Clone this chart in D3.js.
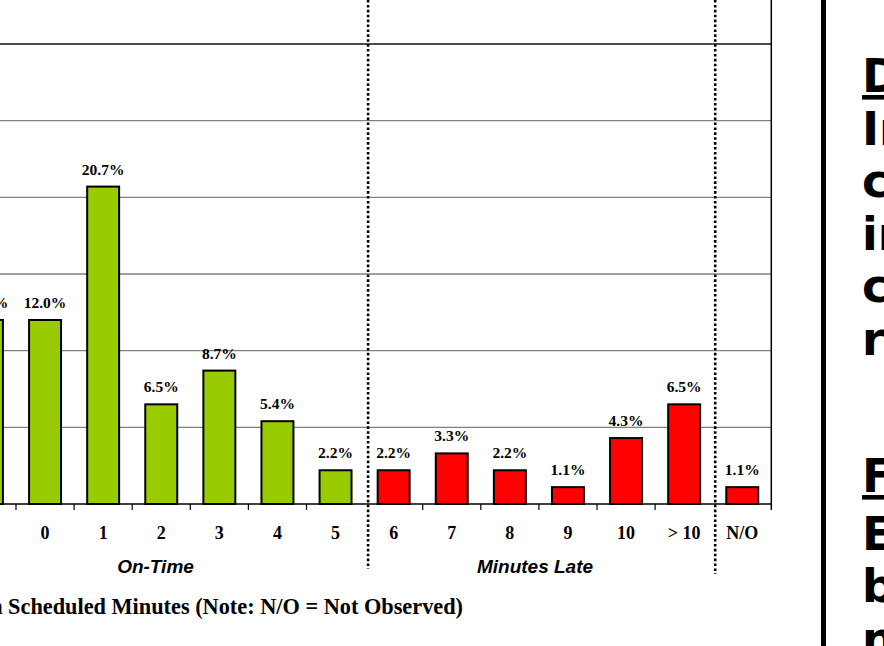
<!DOCTYPE html>
<html>
<head>
<meta charset="utf-8">
<script src="https://cdn.jsdelivr.net/npm/d3@7"></script>
<style>
  html, body { margin: 0; padding: 0; background: #fff; overflow: hidden; }
  svg { display: block; }
</style>
</head>
<body>
<svg id="chart" width="884" height="646"></svg>
<script>
// Distribution of arrivals by minutes relative to schedule
const categories = ["-1", "0", "1", "2", "3", "4", "5", "6", "7", "8", "9", "10", "> 10", "N/O"];
const shares     = [12.0, 12.0, 20.7, 6.5, 8.7, 5.4, 2.2, 2.2, 3.3, 2.2, 1.1, 4.3, 6.5, 1.1];
const groups     = ["on", "on", "on", "on", "on", "on", "on", "late", "late", "late", "late", "late", "late", "late"];
const gridValues = [5, 10, 15, 20, 25, 30];
const sectionLabels = ["On-Time", "Minutes Late"];
const axisTitle = "Actual Minutes Later Than Scheduled Minutes (Note: N/O = Not Observed)";
const sideHeadingA = ["D"];
const sideLinesA   = ["In", "c", "in", "c", "r"];
const sideHeadingB = ["F"];
const sideLinesB   = ["E", "b", "n"];

const svg = d3.select("#chart");
const colors = { on: "#99cc00", late: "#ff0000" };

const x = d3.scaleBand()
  .domain(categories)
  .range([-42.1, 771.3])
  .paddingInner(0.45)
  .paddingOuter(0.225);

const y = d3.scaleLinear().domain([0, 30]).range([504, 44]);
const step = x.step();
const left = x.range()[0];
const bound = i => left + step * i; // boundary between category i-1 and i

// gridlines
svg.append("g").selectAll("line")
  .data(gridValues)
  .join("line")
  .attr("x1", 0).attr("x2", bound(categories.length))
  .attr("y1", d => y(d)).attr("y2", d => y(d))
  .attr("stroke", d => d === 30 ? "#111" : "#808080")
  .attr("stroke-width", 1.3);

// right border of the plot
svg.append("line")
  .attr("x1", bound(categories.length)).attr("x2", bound(categories.length))
  .attr("y1", 0).attr("y2", 510)
  .attr("stroke", "#000").attr("stroke-width", 1.5);

// bars
svg.append("g").selectAll("rect")
  .data(categories)
  .join("rect")
  .attr("x", d => x(d))
  .attr("width", x.bandwidth())
  .attr("y", (d, i) => y(shares[i]))
  .attr("height", (d, i) => y(0) - y(shares[i]))
  .attr("fill", (d, i) => colors[groups[i]])
  .attr("stroke", "#000")
  .attr("stroke-width", 2);

// value labels
svg.append("g").selectAll("text")
  .data(categories)
  .join("text")
  .attr("x", d => x(d) + x.bandwidth() / 2)
  .attr("y", (d, i) => y(shares[i]) - 12)
  .attr("text-anchor", "middle")
  .attr("font-family", "'Liberation Serif', 'Times New Roman', serif")
  .attr("font-weight", "bold")
  .attr("font-size", 15.5)
  .text((d, i) => shares[i].toFixed(1) + "%");

// x axis baseline and ticks
svg.append("line")
  .attr("x1", 0).attr("x2", bound(categories.length))
  .attr("y1", y(0)).attr("y2", y(0))
  .attr("stroke", "#000").attr("stroke-width", 1.5);

const tickIdx = d3.range(1, categories.length).filter(i => i !== 7 && i !== 13);
svg.append("g").selectAll("line")
  .data(tickIdx)
  .join("line")
  .attr("x1", i => bound(i)).attr("x2", i => bound(i))
  .attr("y1", y(0)).attr("y2", y(0) + 6)
  .attr("stroke", "#000").attr("stroke-width", 1.2);

// category labels
svg.append("g").selectAll("text")
  .data(categories)
  .join("text")
  .attr("x", d => x(d) + x.bandwidth() / 2)
  .attr("y", 539)
  .attr("text-anchor", "middle")
  .attr("font-family", "'Liberation Serif', 'Times New Roman', serif")
  .attr("font-weight", "bold")
  .attr("font-size", 18)
  .text(d => d);

// dotted section separators
[7, 13].forEach((i, k) => {
  svg.append("line")
    .attr("x1", bound(i) + (k === 0 ? 3.5 : 2)).attr("x2", bound(i) + (k === 0 ? 3.5 : 2))
    .attr("y1", 0).attr("y2", k === 0 ? 569 : 574)
    .attr("stroke", "#000")
    .attr("stroke-width", 2.6)
    .attr("stroke-dasharray", "2.6 2.3");
});

// section labels
const sectionX = [155.5, 535];
svg.append("g").selectAll("text")
  .data(sectionLabels)
  .join("text")
  .attr("x", (d, i) => sectionX[i])
  .attr("y", 573)
  .attr("text-anchor", "middle")
  .attr("font-family", "'Liberation Sans', Arial, sans-serif")
  .attr("font-weight", "bold")
  .attr("font-style", "italic")
  .attr("font-size", 19)
  .text(d => d);

// axis title
svg.append("text")
  .attr("x", 463)
  .attr("y", 614)
  .attr("text-anchor", "end")
  .attr("font-family", "'Liberation Serif', 'Times New Roman', serif")
  .attr("font-weight", "bold")
  .attr("font-size", 22.3)
  .text(axisTitle);

// side panel divider
svg.append("rect")
  .attr("x", 821).attr("y", 0)
  .attr("width", 5).attr("height", 646)
  .attr("fill", "#000");

// side panel text
const side = svg.append("g")
  .attr("font-family", "'DejaVu Sans', Verdana, sans-serif")
  .attr("font-weight", "bold")
  .attr("font-size", 46)
  .attr("fill", "#000");

const lineH = 52.6;
const blockA = sideHeadingA.concat(sideLinesA);
const blockB = sideHeadingB.concat(sideLinesB);
blockA.forEach((t, i) => {
  side.append("text")
    .attr("x", 862).attr("y", 92 + i * lineH)
    .attr("text-decoration", i === 0 ? "underline" : null)
    .text(t);
});
blockB.forEach((t, i) => {
  side.append("text")
    .attr("x", 862).attr("y", 492 + i * lineH + (i > 0 ? 5 : 0))
    .attr("text-decoration", i === 0 ? "underline" : null)
    .text(t);
});
</script>
</body>
</html>
